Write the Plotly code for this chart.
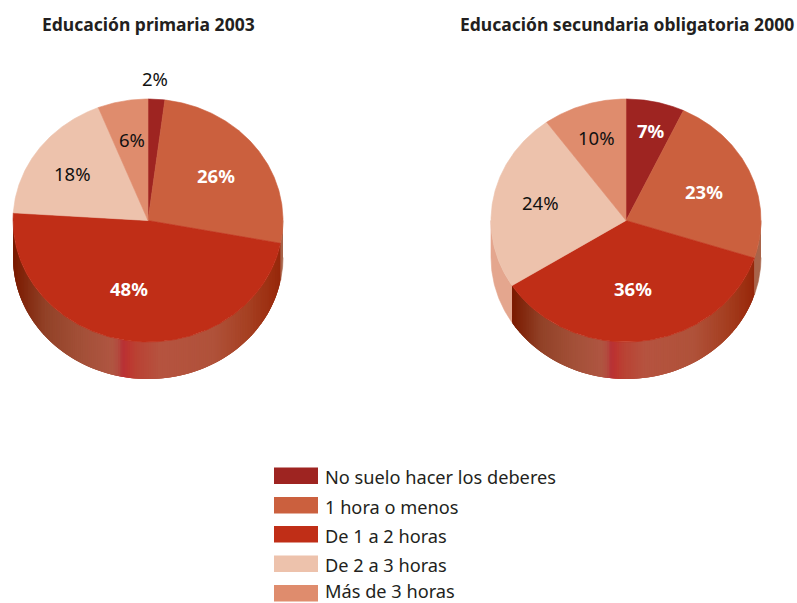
import numpy as np
import plotly.graph_objects as go

categories = ["No suelo hacer los deberes", "1 hora o menos", "De 1 a 2 horas", "De 2 a 3 horas", "Más de 3 horas"]
primaria_2003 = [2, 26, 48, 18, 6]
secundaria_2000 = [7, 23, 36, 24, 10]
labels_primaria = ["2%", "26%", "48%", "18%", "6%"]
labels_secundaria = ["7%", "23%", "36%", "24%", "10%"]
titles = ["Educación primaria 2003", "Educación secundaria obligatoria 2000"]

colors = ["#9e2421", "#cb603e", "#c02e17", "#edc2ac", "#df8c6d"]
rim_flat = ["#7f1c1a", "#a8644a", None, "#e4a68e", "#b56f56"]
grad_t = [0, .03, .12, .25, .37, .395, .41, .43, .46, .55, .75, .88, .97, 1]
grad_rgb = [(122,26,0), (128,36,10), (146,66,40), (163,80,56), (176,86,66), (180,74,62), (184,48,54),
            (190,54,48), (186,66,52), (182,84,64), (176,82,58), (166,64,34), (156,46,16), (150,40,12)]
FONT = "Noto Sans"
RX, RY, DEPTH, CY = 135, 121.5, 37, 220.5
centers = [148, 626]
label_pos = [[(155, 78), (216, 175), (129, 288), (72, 173), (132, 139)],
             [(651, 130), (704, 191), (633, 288), (540, 202), (596, 137)]]
white_labels = [[1, 2], [0, 1, 2]]
title_pos = [(148.5, 24), (626.5, 24)]

fig = go.Figure()


def pt(cx, deg, dy=0.0):
    a = np.radians(deg)
    return cx + RX * np.sin(a), CY - RY * np.cos(a) + dy


def gradient(t):
    r = [np.interp(t, grad_t, [c[i] for c in grad_rgb]) for i in range(3)]
    return "rgb(%d,%d,%d)" % tuple(r)


def poly(xs, ys, color, lw=0.6):
    fig.add_trace(go.Scatter(x=xs, y=ys, mode="lines", fill="toself", fillcolor=color,
                             line=dict(color=color, width=lw), hoverinfo="skip", showlegend=False))


def draw_pie(cx, values):
    edges = np.concatenate([[0], np.cumsum(values)]) * 3.6
    # side wall of the front half
    for i in range(len(values)):
        a0, a1 = max(edges[i], 90), min(edges[i + 1], 270)
        if a1 <= a0:
            continue
        if rim_flat[i] is None:
            xa = pt(cx, a1)[0]
            xb = pt(cx, a0)[0]
            xmin, xmax = min(xa, xb), max(xa, xb)
            for s in np.arange(a0, a1, 1.0):
                e = min(s + 3.0, a1)
                th = np.linspace(s, e, 4)
                xt, yt = pt(cx, th)
                xm = pt(cx, s + 0.5)[0]
                poly(list(xt) + list(xt[::-1]), list(yt) + list(yt[::-1] + DEPTH),
                     gradient((xm - xmin) / (xmax - xmin)), lw=0)
        else:
            th = np.linspace(a0, a1, 40)
            xt, yt = pt(cx, th)
            poly(list(xt) + list(xt[::-1]), list(yt) + list(yt[::-1] + DEPTH), rim_flat[i])
    # top face
    for i in range(len(values)):
        th = np.linspace(edges[i], edges[i + 1], max(3, int(edges[i + 1] - edges[i]) * 2))
        xt, yt = pt(cx, th)
        poly([cx] + list(xt) + [cx], [CY] + list(yt) + [CY], colors[i])


draw_pie(centers[0], primaria_2003)
draw_pie(centers[1], secundaria_2000)

ann = []
for (x, y), t in zip(title_pos, titles):
    ann.append(dict(x=x, y=y, text="<b>%s</b>" % t, showarrow=False, font=dict(family=FONT, size=17.5, color="#231f20")))
for k, labs in enumerate([labels_primaria, labels_secundaria]):
    for i, lab in enumerate(labs):
        w = i in white_labels[k]
        ann.append(dict(x=label_pos[k][i][0], y=label_pos[k][i][1], showarrow=False,
                        text="<b>%s</b>" % lab if w else lab,
                        font=dict(family=FONT, size=18.5, color="white" if w else "#111111")))

shapes = []
swatch_tops = [467.5, 497, 526, 555.5, 585]
text_centers = [477, 506.5, 535.5, 565, 590.5]
for i, cat in enumerate(categories):
    top = swatch_tops[i]
    shapes.append(dict(type="rect", x0=274, x1=318, y0=top, y1=top + 16.5, fillcolor=colors[i], line=dict(width=0), layer="above"))
    ann.append(dict(x=324, y=text_centers[i], text=cat, showarrow=False, xanchor="left", borderpad=0,
                    font=dict(family=FONT, size=18.2, color="#231f20")))

fig.update_layout(width=797, height=603, autosize=False, margin=dict(l=0, r=0, t=0, b=0),
                  paper_bgcolor="white", plot_bgcolor="white", showlegend=False,
                  xaxis=dict(range=[0, 797], visible=False, fixedrange=True),
                  yaxis=dict(range=[603, 0], visible=False, fixedrange=True),
                  annotations=ann, shapes=shapes)
fig.write_html("out.html", config=dict(displayModeBar=False),
               post_script="document.documentElement.style.overflow='hidden';document.body.style.margin='0';")
